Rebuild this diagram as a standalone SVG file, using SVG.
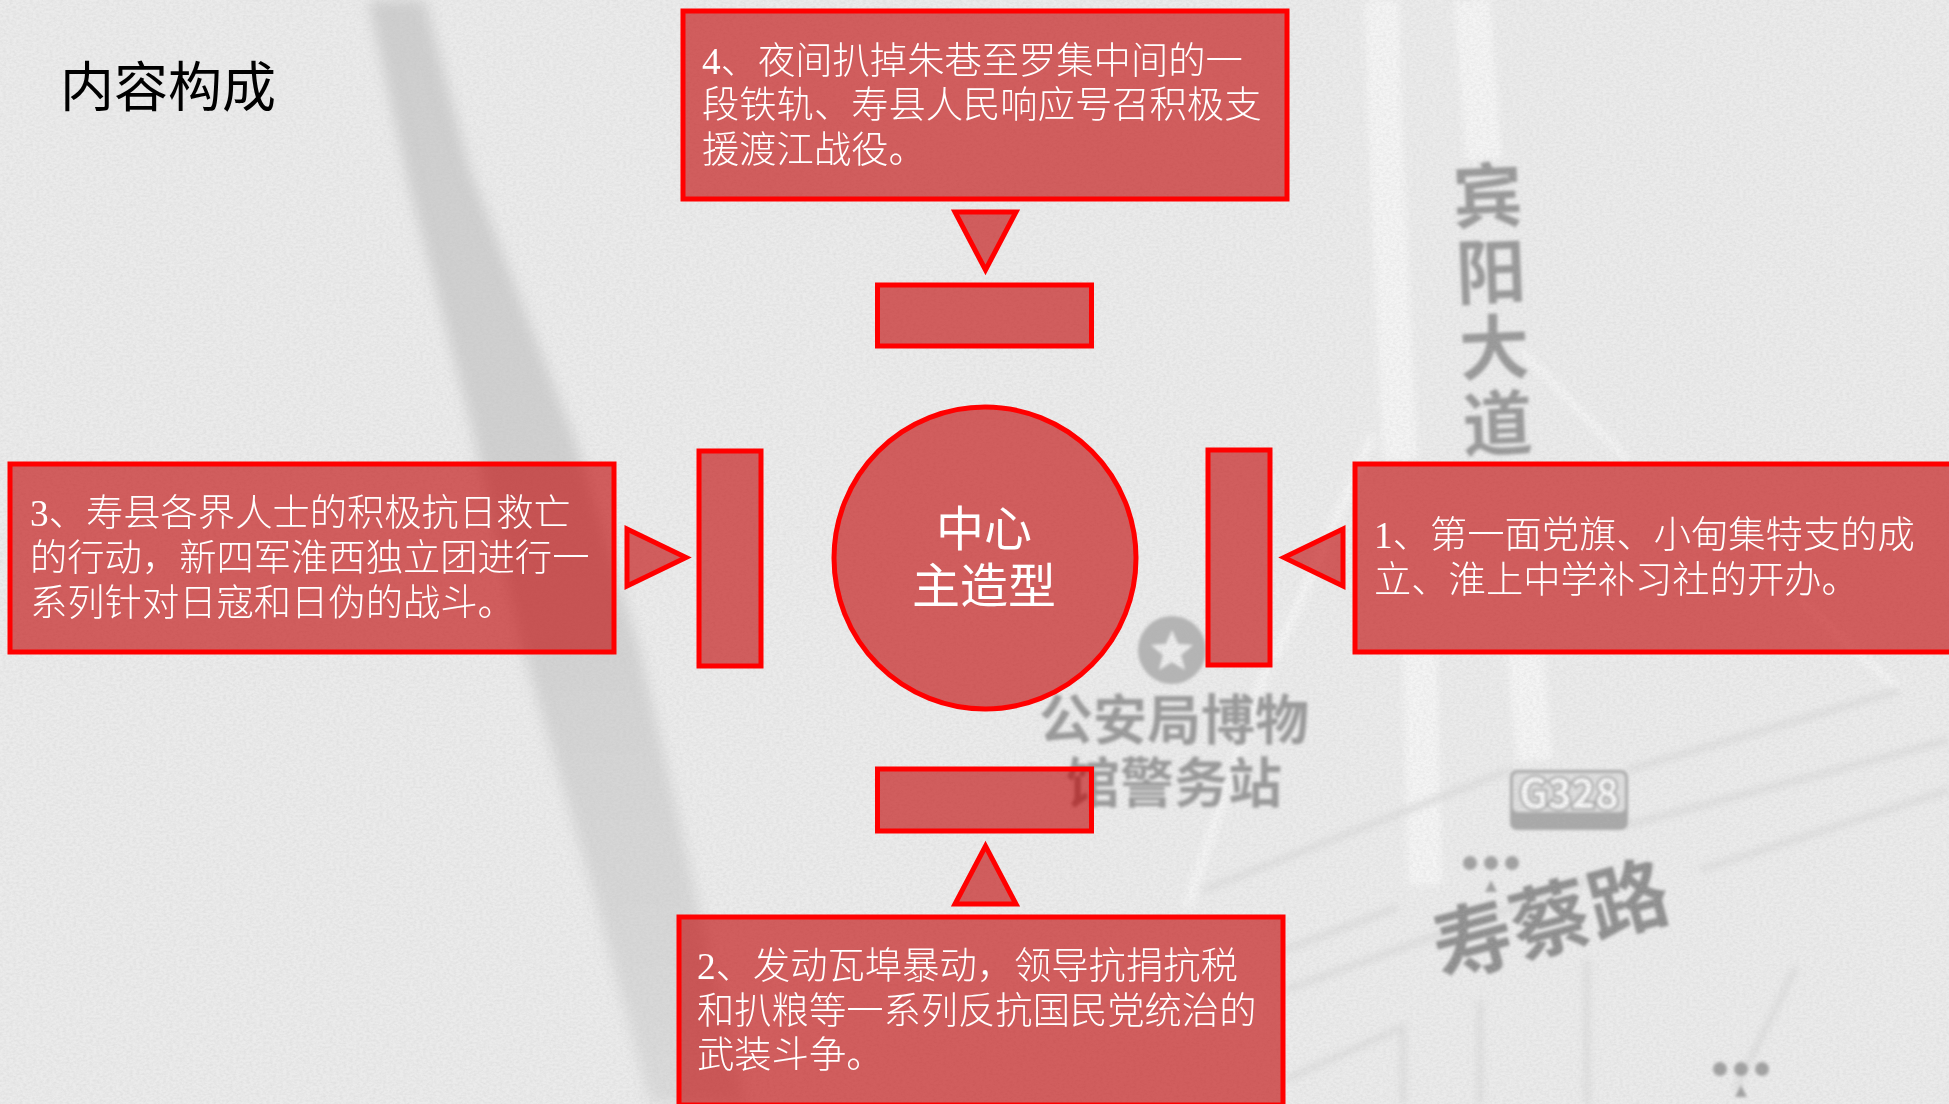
<svg xmlns="http://www.w3.org/2000/svg" width="1949" height="1104" viewBox="0 0 1949 1104">
<style>
.box{fill:#c00000;fill-opacity:.6;stroke:#ff0000;stroke-width:5}
.t{font-family:"Liberation Serif","Noto Sans CJK SC",serif;font-size:37.3px;fill:#fff;font-weight:300}
.map{font-family:"Noto Sans CJK SC","Noto Sans",sans-serif;fill:#989898;font-weight:700;text-anchor:middle}
.g{fill:none;stroke:#dedede;stroke-width:7}
.w{fill:none;stroke:#f4f4f4}
</style>
<defs>
<filter id="b2" x="-20%" y="-20%" width="140%" height="140%"><feGaussianBlur stdDeviation="1.6"/></filter>
<filter id="b8" x="-20%" y="-20%" width="140%" height="140%"><feGaussianBlur stdDeviation="7"/></filter>
<filter id="b1" x="-20%" y="-20%" width="140%" height="140%"><feGaussianBlur stdDeviation="3"/></filter>
<filter id="paper" x="0" y="0" width="100%" height="100%">
<feTurbulence type="fractalNoise" baseFrequency=".3 .45" numOctaves="3" seed="4"/>
<feColorMatrix values="0 0 0 0 0.5 0 0 0 0 0.5 0 0 0 0 0.5 1.2 0 0 0 -.42"/>
</filter>
<linearGradient id="band" x1="0" y1="0" x2="0" y2="1"><stop offset="0" stop-color="#cfcfcf"/><stop offset=".45" stop-color="#d0d0d0"/><stop offset="1" stop-color="#dadada"/></linearGradient>
</defs>
<g id="background">
<rect width="1949" height="1104" fill="#ebebeb"/>
<path d="M368 0L425 0L470 170L575 440L640 650L695 890L745 1104L650 1104L590 880L520 640L470 420L410 190Z" fill="url(#band)" filter="url(#b8)"/>
<g filter="url(#b1)">
<path class="w" stroke-width="34" d="M1382 0L1385 120L1400 460"/>
<path class="w" stroke-width="36" d="M1472 0L1484 160"/>
<path class="w" stroke-width="34" d="M1420 653L1425 885"/>
<path class="w" stroke-width="36" d="M1525 653L1535 760"/>
<path class="w" stroke-width="7" d="M1520 350L1628 460M1800 600L1900 690"/>
<path class="w" stroke-width="9" d="M1373 435L1274 660M1268 665L1187 907"/>
<path class="g" d="M1204 890L1510 770M1628 825L1949 740M1628 770L1900 690M1285 950L1398 907M1285 990L1590 880M1700 870L1949 790M1285 1080L1403 1027L1403 1104M1587 960L1587 1104M1796 967L1735 1090M1480 1104L1480 1000"/>
</g>
<g filter="url(#b2)">
<circle cx="1172" cy="650" r="34" fill="#b4b4b4"/>
<path d="M1172 630l6 14 15 1-12 10 4 15-13-8-13 8 4-15-12-10 15-1z" fill="#ececec"/>
<text class="map" font-size="54"><tspan x="1174" y="740">公安局博物</tspan><tspan x="1174" y="803">馆警务站</tspan></text>
<text class="map" transform="translate(1486 160) rotate(-2.500)" font-size="70" style="writing-mode:vertical-rl;text-anchor:start;letter-spacing:6px;dominant-baseline:central" x="0" y="0">宾阳大道</text>
<text class="map" transform="translate(1558 948) rotate(-15)" font-size="80" style="fill:#8e8e8e">寿蔡路</text>
<rect x="1510" y="770" width="118" height="60" rx="7" fill="#a8a8a8"/>
<rect x="1513" y="773" width="112" height="39" rx="5" fill="#dedede"/>
<text class="map" x="1569" y="808" font-size="40" style="fill:#f6f6f6;stroke:#a0a0a0;stroke-width:4;paint-order:stroke">G328</text>
<g fill="#a0a0a0">
<circle cx="1470" cy="863" r="7"/><circle cx="1491" cy="863" r="7"/><circle cx="1512" cy="863" r="7"/>
<circle cx="1720" cy="1069" r="7"/><circle cx="1741" cy="1069" r="7"/><circle cx="1762" cy="1069" r="7"/>
<path d="M1491 880l6 12h-12zM1741 1085l6 12h-12z"/>
</g>
</g>
<rect width="1949" height="1104" filter="url(#paper)" opacity=".35"/>
</g>
<text id="title" x="60" y="107" font-family="'Noto Sans CJK SC','Noto Sans',sans-serif" font-size="54" fill="#000">内容构成</text>
<g id="connectors">
<path class="box" d="M955 212H1016L985.500 270Z"/>
<path class="box" d="M955 904H1016L985.500 846Z"/>
<path class="box" d="M627 529V586L686 557.500Z"/>
<path class="box" d="M1343 529V586L1284 557.500Z"/>
</g>
<g id="node-center">
<circle class="box" cx="985" cy="558" r="151"/>
<text text-anchor="middle" font-family="'Noto Sans CJK SC',sans-serif" font-size="48" fill="#fff"><tspan x="984" y="546">中心</tspan><tspan x="984" y="603">主造型</tspan></text>
</g>
<g id="node-inner-top"><rect class="box" x="877.500" y="285" width="214" height="61"/></g>
<g id="node-inner-bottom"><rect class="box" x="877.500" y="769" width="214" height="62"/></g>
<g id="node-inner-left"><rect class="box" x="699" y="451" width="62" height="215"/></g>
<g id="node-inner-right"><rect class="box" x="1208" y="450" width="62" height="215"/></g>
<g id="node-4">
<rect class="box" x="683" y="11" width="604" height="188"/>
<text class="t" x="702" y="74">4、夜间扒掉朱巷至罗集中间的一</text>
<text class="t" x="702" y="118">段铁轨、寿县人民响应号召积极支</text>
<text class="t" x="702" y="163">援渡江战役。</text>
</g>
<g id="node-3">
<rect class="box" x="10" y="464" width="604" height="188"/>
<text class="t" x="30" y="526">3、寿县各界人士的积极抗日救亡</text>
<text class="t" x="30" y="571">的行动，新四军淮西独立团进行一</text>
<text class="t" x="30" y="616">系列针对日寇和日伪的战斗。</text>
</g>
<g id="node-1">
<rect class="box" x="1355" y="464" width="604" height="188"/>
<text class="t" x="1374" y="548">1、第一面党旗、小甸集特支的成</text>
<text class="t" x="1374" y="593">立、淮上中学补习社的开办。</text>
</g>
<g id="node-2">
<rect class="box" x="679" y="917" width="604" height="188"/>
<text class="t" x="697" y="979">2、发动瓦埠暴动，领导抗捐抗税</text>
<text class="t" x="697" y="1024">和扒粮等一系列反抗国民党统治的</text>
<text class="t" x="697" y="1068">武装斗争。</text>
</g>
</svg>
